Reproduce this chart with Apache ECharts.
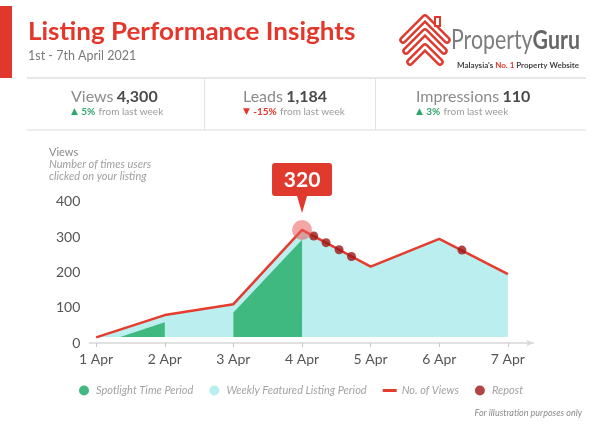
<!DOCTYPE html>
<html><head><meta charset="utf-8">
<script src="https://cdn.jsdelivr.net/npm/echarts@6/dist/echarts.min.js"></script>
<style>html,body{margin:0;padding:0;background:#fff}#c{width:600px;height:435px}</style>
</head><body><div id="c"></div>
<script>
// ---- data ----
const dayLabels = ['1 Apr','2 Apr','3 Apr','4 Apr','5 Apr','6 Apr','7 Apr'];
const dayPos = [0,1,2,3,4,5,6];
const views = [16,79,110,320,216,295,195];
const fillBase = 17;
const spotlightA = [[0.35,17],[1,59],[1,17]];
const spotlightB = [[2,17],[2,86],[3,292],[3,17]];
const repostX = [3.17,3.35,3.54,3.72,5.33];
const repostY = [303,284,264,245,263];
const statNames = ['Views','Leads','Impressions'];
const statValues = ['4,300','1,184','110'];
const statChanges = ['5%','-15%','3%'];
const statUp = [true,false,true];

const FONT = 'Lato, "Noto Sans", sans-serif';
const C_GREEN = '#3fb97f', C_CYAN = '#bbeeee', C_RED = '#e63c2e', C_DARK = '#9c1618';

const weeklyPoly = [[dayPos[0],fillBase]].concat(views.map((v,i)=>[dayPos[i],v])).concat([[dayPos[6],fillBase]]);
const viewsData = views.map((v,i)=>[dayPos[i],v]);
const repostData = repostX.map((x,i)=>[x,repostY[i]]);
const peakIdx = views.indexOf(Math.max(...views));

function polySeries(name, pts, color, z){
  return {type:'custom', name, z, silent:true, data: pts, encode:{x:0,y:1},
    itemStyle:{color}, clip:false,
    renderItem(params, api){
      if (params.dataIndex !== 0) return null;
      return {type:'polygon', shape:{points: pts.map(p=>api.coord(p))}, style:{fill:color}};
    }};
}

// ---- header graphics ----
const statX = [71, 243, 416];
const graphics = [
  {type:'rect', shape:{x:0,y:6,width:12,height:72}, style:{fill:'#e0382d'}},
  {type:'text', x:28, y:32, scaleX:1.04, style:{text:'Listing Performance Insights', font:'bold 25px '+FONT, fill:'#e4362b', verticalAlign:'middle'}},
  {type:'text', x:28, y:56, style:{text:'1st - 7th April 2021', font:'12.5px '+FONT, fill:'#7a7a7a', verticalAlign:'middle'}},
  {type:'line', shape:{x1:27,y1:78,x2:586,y2:78}, style:{stroke:'#cfcfcf', lineWidth:1}},
  {type:'line', shape:{x1:27,y1:130,x2:586,y2:130}, style:{stroke:'#dcdcdc', lineWidth:1}},
  {type:'line', shape:{x1:204.5,y1:78,x2:204.5,y2:130}, style:{stroke:'#e2e2e2', lineWidth:1}},
  {type:'line', shape:{x1:375.5,y1:78,x2:375.5,y2:130}, style:{stroke:'#e2e2e2', lineWidth:1}},
  // logo
  {type:'text', x:451, y:41, scaleX:0.82, style:{text:'{p|Property}{g|Guru}', verticalAlign:'middle',
    rich:{p:{fontSize:26, fontFamily:FONT, fill:'#7d7d7d'}, g:{fontSize:26, fontFamily:FONT, fontWeight:'bold', fill:'#666666'}}}},
  {type:'text', x:579, y:65, style:{text:"{a|Malaysia's }{r|No. 1}{a| Property Website}", align:'right', verticalAlign:'middle',
    rich:{a:{fontSize:8, fontFamily:FONT, fontWeight:'bold', fill:'#444'}, r:{fontSize:8, fontFamily:FONT, fontWeight:'bold', fill:'#e4362b'}}}},
  // y axis description
  {type:'text', x:49, y:152, style:{text:'Views', font:'11px '+FONT, fill:'#8a8a8a', verticalAlign:'middle'}},
  {type:'text', x:49, y:164, style:{text:'Number of times users', font:'italic 11px '+FONT, fill:'#a0a0a0', verticalAlign:'middle'}},
  {type:'text', x:49, y:176, style:{text:'clicked on your listing', font:'italic 11px '+FONT, fill:'#a0a0a0', verticalAlign:'middle'}},
  {type:'text', x:582, y:413, style:{text:'For illustration purposes only', font:'italic 9px '+FONT, fill:'#8a8a8a', align:'right', verticalAlign:'middle'}}
];
// logo icon (hollow chevrons)
const chevrons = [
  [[403,40],[425,18],[447,40]],
  [[406,51],[425,32],[444,51]],
  [[410,62],[425,47],[440,62]]
];
chevrons.forEach(pts=>{
  graphics.push({type:'polyline', shape:{points:pts}, style:{stroke:'#e0382d', lineWidth:7.5, lineJoin:'round', lineCap:'round', fill:null}});
  graphics.push({type:'polyline', shape:{points:pts}, style:{stroke:'#fff', lineWidth:2.6, lineJoin:'round', lineCap:'round', fill:null}});
});
graphics.push({type:'rect', shape:{x:435,y:17,width:5,height:9}, style:{fill:'#fff', stroke:'#e0382d', lineWidth:2}});

statNames.forEach((n,i)=>{
  graphics.push({type:'text', x:statX[i], y:97, style:{text:'{a|'+n+'} {b|'+statValues[i]+'}', verticalAlign:'middle',
    rich:{a:{fontSize:16, fontFamily:FONT, fill:'#8a8a8a'}, b:{fontSize:16, fontFamily:FONT, fontWeight:'bold', fill:'#4a4a4a'}}}});
  const col = statUp[i] ? '#2ea56a' : '#e4362b';
  graphics.push({type:'text', x:statX[i], y:112, style:{text:'{t|'+(statUp[i]?'▲':'▼')+'} {c|'+statChanges[i]+'} {d|from last week}', verticalAlign:'middle',
    rich:{t:{fontSize:9, fill:col, fontFamily:'DejaVu Sans'}, c:{fontSize:10, fontFamily:FONT, fontWeight:'bold', fill:col}, d:{fontSize:10, fontFamily:FONT, fill:'#9a9a9a'}}}});
});

const chart = echarts.init(document.getElementById('c'), null, {renderer:'canvas'});
chart.setOption({
  animation:false,
  backgroundColor:'#fff',
  grid:{left:89.3, right:66.7, top:201.7, bottom:92},
  xAxis:{type:'value', min:-0.1, max:6.37,
    axisLine:{show:true, symbol:['none','arrow'], symbolSize:[5,7], lineStyle:{color:'#d8d8d8', width:1.5}},
    axisTick:{show:true, customValues:dayPos, length:4, inside:false, lineStyle:{color:'#c8c8c8'}},
    axisLabel:{customValues:dayPos, formatter:v=>dayLabels[Math.round(v)], fontSize:14, fontFamily:FONT, color:'#555', margin:9},
    splitLine:{show:false}},
  yAxis:{type:'value', min:0, max:400, interval:100,
    axisLine:{show:false}, axisTick:{show:false}, splitLine:{show:false},
    axisLabel:{fontSize:14, fontFamily:FONT, color:'#555', margin:9}},
  legend:{left:74, top:380, itemWidth:14, itemHeight:10, itemGap:16, selectedMode:false,
    textStyle:{fontFamily:FONT, fontStyle:'italic', fontSize:11, color:'#a3a3a3'},
    data:[{name:'Spotlight Time Period', icon:'circle'},
          {name:'Weekly Featured Listing Period', icon:'circle'},
          {name:'No. of Views', icon:'path://M0,0H14V3H0Z'},
          {name:'Repost', icon:'circle'}]},
  graphic:graphics,
  series:[
    polySeries('Weekly Featured Listing Period', weeklyPoly, C_CYAN, 1),
    polySeries('Spotlight Time Period', spotlightA, C_GREEN, 2),
    polySeries('Spotlight Time Period', spotlightB, C_GREEN, 2),
    {type:'line', name:'No. of Views', data:viewsData, z:3, showSymbol:false, silent:true,
      itemStyle:{color:C_RED}, lineStyle:{color:C_RED, width:2.5},
      markPoint:{silent:true, data:[
        {coord:viewsData[peakIdx], value:views[peakIdx], symbol:'circle', symbolSize:20,
          itemStyle:{color:'rgba(232,92,92,0.55)'}, label:{show:false}},
        {coord:viewsData[peakIdx], value:views[peakIdx],
          symbol:'path://M3,0 L57,0 Q60,0 60,3 L60,30 Q60,33 57,33 L35,33 L30,50 L25,33 L3,33 Q0,33 0,30 L0,3 Q0,0 3,0 Z',
          symbolSize:[60,50], symbolOffset:[0,-42], symbolKeepAspect:false,
          itemStyle:{color:'#e0392e'},
          label:{show:true, position:'inside', offset:[0,-8], formatter:p=>String(p.value), color:'#fff', fontSize:21, fontWeight:'bold', fontFamily:FONT}}
      ]}},
    {type:'scatter', name:'Repost', data:repostData, z:4, symbolSize:9, silent:true, itemStyle:{color:C_DARK}}
  ]
});
</script></body></html>
